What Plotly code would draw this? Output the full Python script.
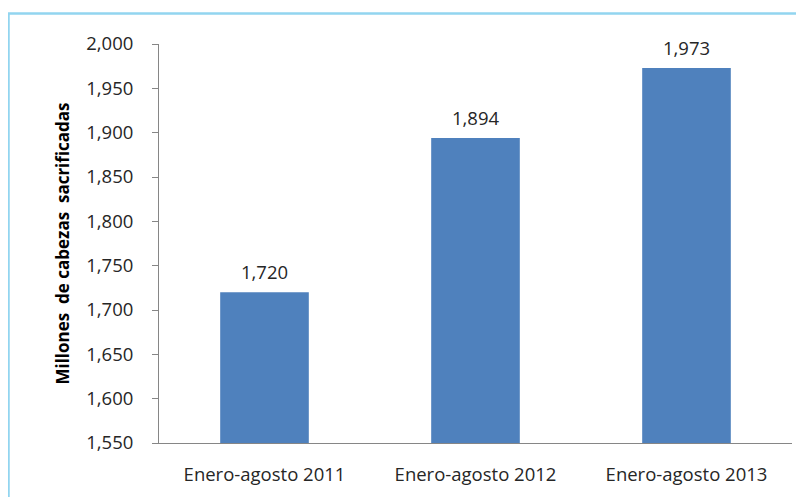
import plotly.graph_objects as go

categories = ["Enero-agosto 2011", "Enero-agosto 2012", "Enero-agosto 2013"]
values = [1720, 1894, 1973]
label_texts = ["1,720", "1,894", "1,973"]
tick_vals = [1550, 1600, 1650, 1700, 1750, 1800, 1850, 1900, 1950, 2000]
tick_texts = ["1,550", "1,600", "1,650", "1,700", "1,750", "1,800", "1,850", "1,900", "1,950", "2,000"]
y_title = "Millones  de cabezas  sacrificadas"

FONT = "Open Sans"
TXT = "#262626"
FS = 18.5

fig = go.Figure()
fig.add_trace(go.Bar(
    x=categories, y=values,
    marker=dict(color="#4F81BD", line=dict(width=0)),
    width=0.42,
    hoverinfo="skip",
))

for c, v, t in zip(categories, values, label_texts):
    fig.add_annotation(x=c, y=v, text=t, showarrow=False, yanchor="bottom",
                       yshift=6, font=dict(family=FONT, size=FS, color=TXT))

L, T, PW, PH = 151, 35.5, 633, 400
W, H = 796, 489

fig.update_layout(
    width=W, height=H,
    margin=dict(l=L, r=W - L - PW, t=T, b=H - T - PH),
    paper_bgcolor="white", plot_bgcolor="white",
    showlegend=False,
    font=dict(family=FONT, size=FS, color=TXT),
    xaxis=dict(
        showline=True, linecolor="#868686", linewidth=1,
        ticks="", showgrid=False, tickfont=dict(family=FONT, size=FS, color=TXT),
        ticklabelstandoff=15, automargin=False,
    ),
    yaxis=dict(
        range=[1550, 2000], tickvals=tick_vals, ticktext=tick_texts,
        showline=True, linecolor="#868686", linewidth=1,
        ticks="outside", ticklen=6, tickcolor="#868686",
        showgrid=False, zeroline=False,
        tickfont=dict(family=FONT, size=FS, color=TXT),
        ticklabelstandoff=15, automargin=False,
        title=dict(text="<b>" + y_title + "</b>", font=dict(family=FONT, size=17, color="black"),
                   standoff=12),
    ),
    shapes=[dict(type="rect", xref="paper", yref="paper",
                 x0=(0.5 - L) / PW, x1=1.1, y0=-0.3, y1=(T + PH - 5) / PH,
                 line=dict(color="#92D5F0", width=2.5), fillcolor="rgba(0,0,0,0)", layer="below")],
)

fig.write_html("out.html")
